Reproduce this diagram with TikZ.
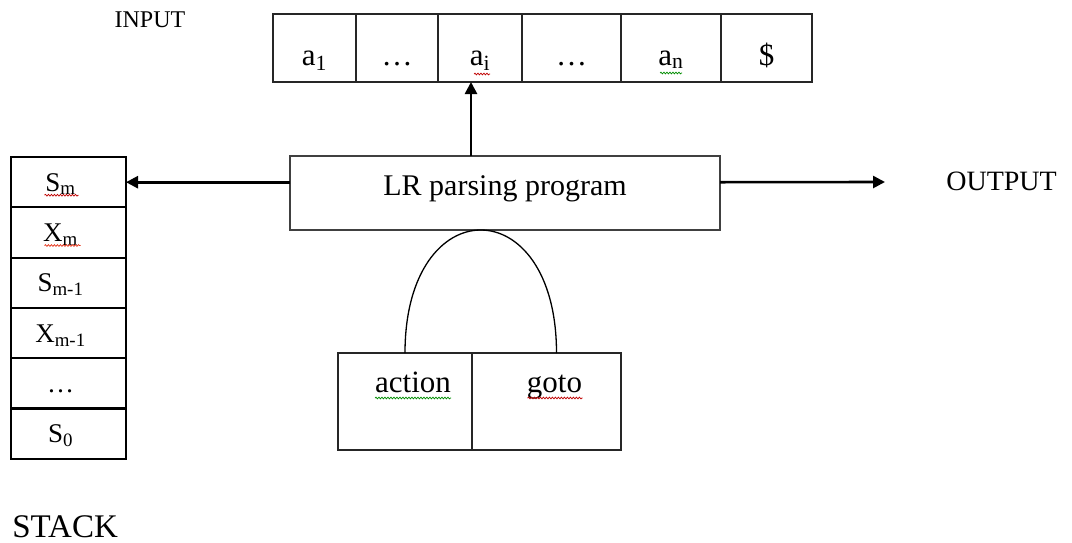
\documentclass[tikz,border=0pt]{standalone}
\usepackage{fontspec}
\setmainfont{Liberation Serif}
\usetikzlibrary{positioning, calc, arrows.meta, decorations.pathmorphing}

\begin{document}
\begin{tikzpicture}[x=1pt, y=-1pt, node distance=0pt, outer sep=0pt,
        >={Triangle[length=12pt, width=12pt]},
        tapecell/.style={draw=black!85, line width=1.8pt, inner sep=0pt,
            minimum height=68pt, text height=40pt, text depth=6pt,
            font=\fontsize{31}{36}\selectfont},
        stackcell/.style={draw=black, line width=2.2pt, inner sep=0pt,
            minimum width=115pt, minimum height=50.3pt, text height=27pt, text depth=9pt,
            font=\fontsize{27}{32}\selectfont, execute at end node={\hspace{16pt}}},
        tablecell/.style={draw=black!85, line width=1.6pt, inner sep=0pt,
            minimum height=97pt, text height=20pt, text depth=39pt,
            font=\fontsize{31}{36}\selectfont, execute at begin node={\hspace{16pt}}},
        progbox/.style={draw=black!75, line width=1.8pt, inner sep=0pt,
            minimum width=430pt, minimum height=74pt, text height=20pt, text depth=16pt,
            font=\fontsize{30}{36}\selectfont},
        caption/.style={font=\fontsize{28}{32}\selectfont},
        flow/.style={->, line width=2.6pt},
        squig/.style={decorate, decoration={snake, amplitude=0.9pt, segment length=3pt}, line width=0.7pt}]

        \useasboundingbox (0,0) rectangle (1072,542);

        % input tape
        \node[tapecell, minimum width=83pt] (a1) at (314.5,48) {a\textsubscript{1}};
        \node[tapecell, minimum width=82pt] (dl) [right=of a1] {\ldots};
        \node[tapecell, minimum width=84pt] (ai) [right=of dl] {a\textsubscript{i}};
        \node[tapecell, minimum width=99pt] (dr) [right=of ai] {\ldots};
        \node[tapecell, minimum width=100pt] (an) [right=of dr] {a\textsubscript{n}};
        \node[tapecell, minimum width=91pt] (eoi) [right=of an] {\$};
        \node[caption, font=\fontsize{24}{28}\selectfont, anchor=base] (input) at (150,27) {INPUT};

        % driver
        \node[progbox] (lr) at (505,193) {LR parsing program};
        \node[caption, anchor=base west] (output) at (943,190) {OUTPUT};
        \coordinate (outtip) at (885,182);
        \coordinate (head) at (471,82);

        % stack
        \node[stackcell] (sm) at (68.5,182.2) {S\textsubscript{m}};
        \node[stackcell] (xm) [below=of sm] {X\textsubscript{m}};
        \node[stackcell] (sm1) [below=of xm] {S\textsubscript{m-1}};
        \node[stackcell] (xm1) [below=of sm1] {X\textsubscript{m-1}};
        \node[stackcell] (sd) [below=of xm1] {\ldots};
        \node[stackcell] (s0) [below=of sd] {S\textsubscript{0}};
        \node[caption, font=\fontsize{33}{36}\selectfont, anchor=base west] (stack) at (9,537) {STACK};

        % parsing table
        \node[tablecell, minimum width=134pt] (action) at (405,401.5) {action};
        \node[tablecell, minimum width=149pt] (goto) [right=of action] {goto};

        \path[flow]
        (lr.north -| head) edge (head)
        (lr.west |- sm.east) edge (sm.east)
        (lr.east |- sm.east) edge (outtip);

        \draw[line width=1.3pt] (action.north) .. controls +(0,-164) and +(0,-164) .. ([xshift=10pt]goto.north);

        % spelling marks
        \draw[squig, red!75!black] ($(sm.base)+(-24,4)$) -- ($(sm.base)+(10,4)$);
        \draw[squig, red!60!brown] ($(xm.base)+(-24,4)$) -- ($(xm.base)+(12,4)$);
        \draw[squig, red!75!black] ($(ai.base)+(-6,9)$) -- ($(ai.base)+(10,9)$);
        \draw[squig, green!55!black] ($(an.base)+(-11,8)$) -- ($(an.base)+(11,8)$);
        \draw[squig, green!55!black] ($(action.base)+(-30,6)$) -- ($(action.base)+(46,6)$);
        \draw[squig, red!75!black] ($(goto.base)+(-19,6)$) -- ($(goto.base)+(36,6)$);
    \end{tikzpicture}
\end{document}
